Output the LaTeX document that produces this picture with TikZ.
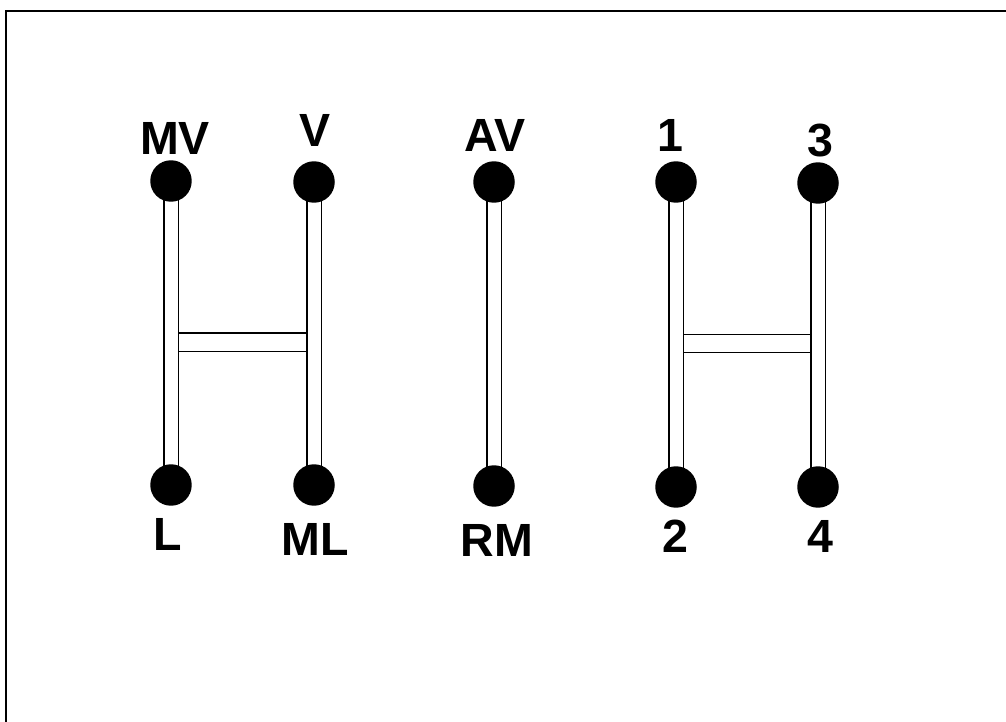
\documentclass[tikz,border=0pt]{standalone}
\usepackage{fontspec}
\setmainfont{Liberation Sans}
\usetikzlibrary{calc,backgrounds,positioning}

\begin{document}
\begin{tikzpicture}[x=0.02cm, y=-0.02cm,
        dot/.style={circle, fill=black, inner sep=0pt, minimum size=0.83cm},
        rod/.style={draw=black, line width=0.7pt, double=white, double distance=0.26cm},
        bar/.style={rod, double distance=0.34cm},
        lbl/.style={anchor=base, font=\fontsize{26.5}{30}\selectfont\bfseries}]
    \useasboundingbox (0,0) rectangle (1006,722);
    \clip (0,0) rectangle (1006,722);
    \draw[line width=1.4pt] (6,740) -- (6,11) -- (1030,11);

    % shift positions
    \node[dot] (mv) at (171,181) {};
    \node[dot] (l)  at (171,485) {};
    \node[dot] (v)  at (314,182) {};
    \node[dot] (ml) at (314,485) {};
    \node[dot] (av) at (494,182) {};
    \node[dot] (rm) at (494,486) {};
    \node[dot] (g1) at (676,182) {};
    \node[dot] (g2) at (676,487) {};
    \node[dot] (g3) at (818,183) {};
    \node[dot] (g4) at (818,487) {};

    \coordinate (hl1) at ($(mv)!0.53!(l)$);
    \coordinate (hr1) at (v |- hl1);
    \coordinate (hl2) at ($(g1)!0.53!(g2)$);
    \coordinate (hr2) at (g3 |- hl2);

    \begin{scope}[on background layer]
        \draw[bar] (hl1) -- (hr1);
        \draw[bar] (hl2) -- (hr2);
        \draw[rod] (mv.center) -- (l.center);
        \draw[rod] (v.center) -- (ml.center);
        \draw[rod] (av.center) -- (rm.center);
        \draw[rod] (g1.center) -- (g2.center);
        \draw[rod] (g3.center) -- (g4.center);
    \end{scope}

    % labels
    \node[lbl] (tmv) at (175,155) {MV};
    \node[lbl] (tv)  at (315,147) {V};
    \node[lbl] (tav) at (495,152) {AV};
    \node[lbl] (t1)  at (670,152) {1};
    \node[lbl] (t3)  at (820,157) {3};
    \node[lbl] (tl)  at (168,550) {L};
    \node[lbl] (tml) at (315,555) {ML};
    \node[lbl] (trm) at (497,556) {RM};
    \node[lbl] (t2)  at (675,552) {2};
    \node[lbl] (t4)  at (820,552) {4};
\end{tikzpicture}
\end{document}
